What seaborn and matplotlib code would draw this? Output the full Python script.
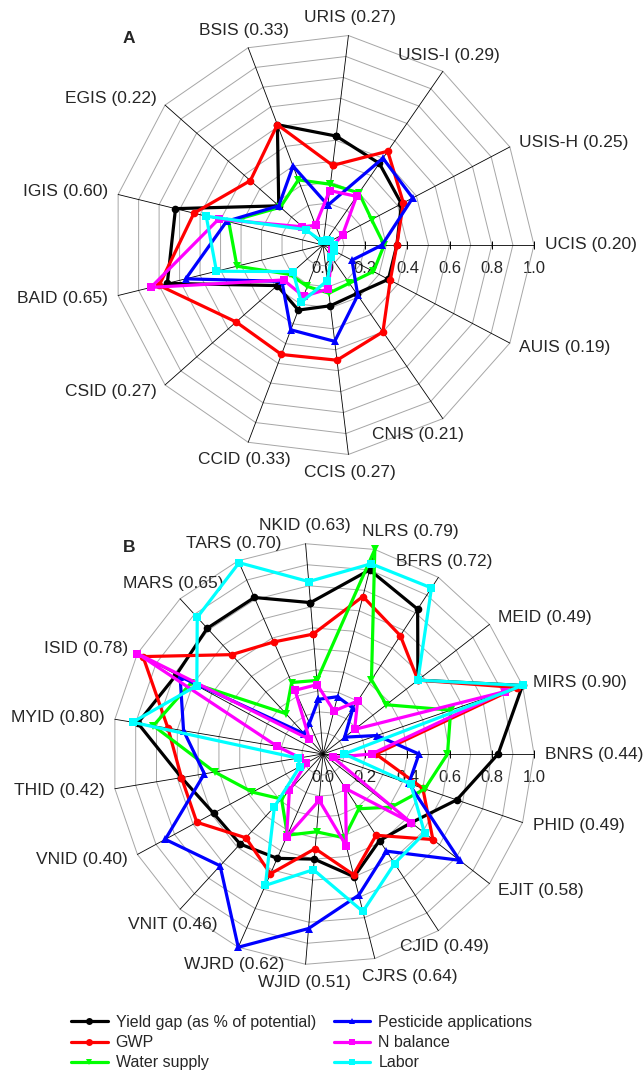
import numpy as np
import pandas as pd
import matplotlib
matplotlib.use("Agg")
import matplotlib.pyplot as plt
from matplotlib.lines import Line2D
import seaborn as sns

sns.set_style("white")
plt.rcParams["font.family"] = ["Liberation Sans", "DejaVu Sans"]

series = ["Yield gap (as % of potential)", "GWP", "Water supply",
          "Pesticide applications", "N balance", "Labor"]
colors = ["#000000", "#FF0000", "#00FF00", "#0000FF", "#FF00FF", "#00FFFF"]
markers = ["o", "o", "v", "^", "s", "s"]

# %% panel A data (clockwise, UCIS sits on the horizontal axis)
cats_a = ["URIS (0.27)", "USIS-I (0.29)", "USIS-H (0.25)", "UCIS (0.20)", "AUIS (0.19)",
          "CNIS (0.21)", "CCIS (0.27)", "CCID (0.33)", "CSID (0.27)", "BAID (0.65)",
          "IGIS (0.60)", "EGIS (0.22)", "BSIS (0.33)"]
yield_a = [0.52, 0.47, 0.42, 0.35, 0.35, 0.28, 0.29, 0.33, 0.29, 0.76, 0.72, 0.28, 0.61]
gwp_a = [0.38, 0.54, 0.43, 0.35, 0.36, 0.50, 0.55, 0.555, 0.55, 0.80, 0.63, 0.46, 0.61]
water_a = [0.29, 0.30, 0.26, 0.29, 0.27, 0.22, 0.23, 0.21, 0.21, 0.42, 0.46, 0.27, 0.33]
pest_a = [0.19, 0.50, 0.48, 0.28, 0.155, 0.29, 0.46, 0.43, 0.26, 0.67, 0.47, 0.28, 0.40]
nbal_a = [0.26, 0.28, 0.105, 0.05, 0.05, 0.07, 0.21, 0.26, 0.25, 0.84, 0.51, 0.13, 0.10]
labor_a = [0.02, 0.03, 0.04, 0.05, 0.06, 0.07, 0.17, 0.29, 0.19, 0.52, 0.57, 0.11, 0.02]

# %% panel B data (clockwise, BNRS sits on the horizontal axis)
cats_b = ["NKID (0.63)", "NLRS (0.79)", "BFRS (0.72)", "MEID (0.49)", "MIRS (0.90)",
          "BNRS (0.44)", "PHID (0.49)", "EJIT (0.58)", "CJID (0.49)", "CJRS (0.64)",
          "WJID (0.51)", "WJRD (0.62)", "VNIT (0.46)", "VNID (0.40)", "THID (0.42)",
          "MYID (0.80)", "ISID (0.78)", "MARS (0.65)", "TARS (0.70)"]
yield_b = [0.72, 0.90, 0.82, 0.57, 1.00, 0.83, 0.67, 0.53, 0.49, 0.60,
           0.50, 0.54, 0.58, 0.59, 0.68, 0.89, 0.79, 0.81, 0.81]
gwp_b = [0.57, 0.77, 0.67, 0.57, 0.97, 0.25, 0.50, 0.66, 0.46, 0.59,
         0.45, 0.62, 0.54, 0.68, 0.68, 0.745, 0.97, 0.64, 0.58]
water_b = [0.35, 1.00, 0.42, 0.38, 0.64, 0.59, 0.51, 0.41, 0.31, 0.41,
           0.37, 0.42, 0.29, 0.38, 0.52, 0.815, 0.71, 0.26, 0.37]
pest_b = [0.26, 0.28, 0.26, 0.13, 0.27, 0.455, 0.43, 0.82, 0.55, 0.69,
          0.83, 1.00, 0.72, 0.85, 0.57, 0.67, 0.77, 0.13, 0.16]
nbal_b = [0.33, 0.21, 0.30, 0.19, 0.91, 0.23, 0.05, 0.53, 0.195, 0.45,
          0.22, 0.43, 0.235, 0.09, 0.11, 0.22, 1.00, 0.095, 0.33]
labor_b = [0.82, 0.93, 0.94, 0.57, 1.00, 0.10, 0.44, 0.61, 0.62, 0.77,
           0.55, 0.68, 0.34, 0.125, 0.12, 0.915, 0.68, 0.88, 0.99]

ticks = [0.0, 0.2, 0.4, 0.6, 0.8, 1.0]

W, H = 643, 1073
R = 211  # pixels for 1.0
LIM = 1.2

fig = plt.figure(figsize=(W / 100, H / 100), dpi=100)


def radar(cx, cy, cats, values, east_idx, tag, tweaks):
    side = 2 * LIM * R
    ax = fig.add_axes([(cx - LIM * R) / W, (H - cy - LIM * R) / H, side / W, side / H])
    ax.set_xlim(-LIM, LIM)
    ax.set_ylim(-LIM, LIM)
    ax.axis("off")

    n = len(cats)
    ang = np.deg2rad(90 + (np.arange(n) - east_idx) * 360.0 / n)
    closed = np.append(ang, ang[0])

    # grid rings every 0.1 and spokes
    for lvl in np.arange(1, 11) / 10:
        ax.plot(lvl * np.sin(closed), lvl * np.cos(closed), color="#a6a6a6", lw=0.7, zorder=0.5)
    for a in ang:
        ax.plot([0, np.sin(a)], [0, np.cos(a)], color="black", lw=0.6, zorder=0.6)

    # value axis ticks along the horizontal spoke
    ax.plot(ticks[1:], [0] * 5, ls="none", marker="|", ms=6, mew=0.7, color="black", zorder=0.6)
    for t in ticks:
        ax.text(t, -0.11, f"{t:.1f}", ha="center", va="center", fontsize=12, zorder=0.4)

    # category labels
    pad = 0.05
    for a, lab in zip(ang, cats):
        s, c = np.sin(a), np.cos(a)
        ha = "left" if s > 0.7 else ("right" if s < -0.7 else "center")
        va = "bottom" if c > 0.7 else ("top" if c < -0.7 else "center")
        x, y = (1 + pad) * s, (1 + pad) * c
        key = lab.split()[0]
        if key in tweaks:
            dx, ha = tweaks[key]
            x = s + dx
        ax.text(x, y, lab, ha=ha, va=va, fontsize=12.5, clip_on=False)

    # data
    rows = []
    for name, vals in zip(series, values):
        for k in list(range(n)) + [0]:
            rows.append({"series": name, "x": vals[k] * np.sin(ang[k]), "y": vals[k] * np.cos(ang[k])})
    df = pd.DataFrame(rows)
    sns.lineplot(data=df, x="x", y="y", hue="series", style="series",
                 hue_order=series, style_order=series,
                 palette=dict(zip(series, colors)), markers=dict(zip(series, markers)),
                 dashes=False, sort=False, estimator=None, legend=False, ax=ax,
                 lw=2.3, ms=5.5, mew=0, zorder=3)
    ax.set_xlabel("")
    ax.set_ylabel("")
    ax.text(-0.92, 0.98, tag, fontsize=12.5, fontweight="bold", ha="center", va="center")
    return ax


radar(323, 245, cats_a, [yield_a, gwp_a, water_a, pest_a, nbal_a, labor_a], 3, "A",
      {"CNIS": (-0.12, "center")})
radar(323, 754, cats_b, [yield_b, gwp_b, water_b, pest_b, nbal_b, labor_b], 5, "B",
      {"NLRS": (-0.06, "left"), "CJRS": (-0.06, "left")})

handles = [Line2D([], [], color=c, marker=m, lw=2.3, ms=5, mew=0) for c, m in zip(colors, markers)]
fig.legend(handles, series, ncol=2, loc="upper left", bbox_to_anchor=(71 / W, 1 - 1015 / H),
           frameon=False, fontsize=11.5, handlelength=2.3, handletextpad=0.5,
           columnspacing=1.1, labelspacing=0.32, borderpad=0, borderaxespad=0)

fig.savefig("out.png", dpi=100)
